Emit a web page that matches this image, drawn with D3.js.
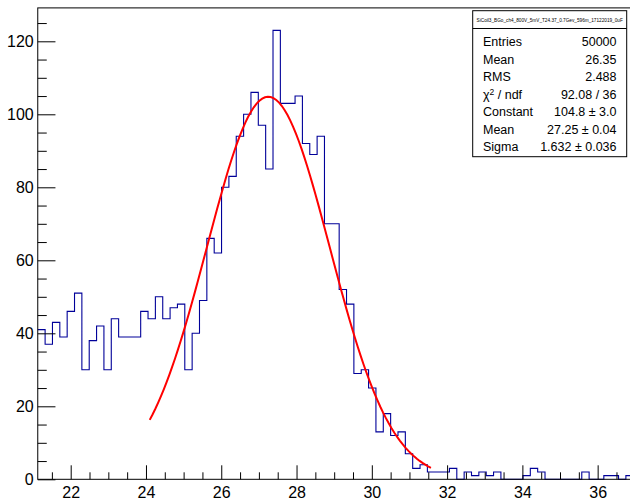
<!DOCTYPE html>
<html><head><meta charset="utf-8">
<script src="https://cdn.jsdelivr.net/npm/d3@7"></script>
<style>
body{margin:0;background:#fff}
svg{display:block}
text{font-family:"Liberation Sans",Arial,Helvetica,sans-serif;fill:#000}
</style>
</head><body>
<svg id="c" width="630" height="502"></svg>
<script>
// ---- data ----
const binLow = 21.125;
const binWidth = 0.1953125;
const counts = [41,37,43,39,46,51,30,38,42,30,
                44,39,39,39,46,44,50,44,47,48,
                30,40,49,66,62,80,83,94,100,106,
                97,85,123,103,103,105,92,89,94,70,
                70,52,48,29,30,25,13,18,12,13,
                7,3,4,2,2,2,3,0,2,1,
                2,1,2,0,0,0,1,3,2,0,
                0,0,0,0,2,0,0,1,1,0,
                1];
const xTicks = [22,24,26,28,30,32,34,36];
const yTicks = [0,20,40,60,80,100,120];
const fitConstant = 104.8, fitMean = 27.25, fitSigma = 1.632;
const fitRange = [24.1, 31.57];
const statsTitle = "SiCoil3_BGo_ch4_800V_5mV_T24.37_0.7Gev_596m_17122019_0uF";
const statsLabels = ["Entries","Mean","RMS","χ2 / ndf","Constant","Mean","Sigma"];
const statsValues = ["50000","26.35","2.488","92.08 / 36","104.8 ± 3.0","27.25 ± 0.04","1.632 ± 0.036"];

// ---- scales ----
const nBins = counts.length;
const xMax = binLow + nBins*binWidth;
const x = d3.scaleLinear().domain([binLow, xMax]).range([37.76, 37.76 + (xMax-binLow)*37.64]);
const y = d3.scaleLinear().domain([0, 1.05*d3.max(counts)]).range([479.3, 7.9]);

const svg = d3.select("#c");

// histogram
const pts = counts.map((c,i)=>[binLow+i*binWidth, c]);
pts.push([xMax, counts[nBins-1]]);
svg.append("path")
  .attr("d", d3.line().x(d=>x(d[0])).y(d=>y(d[1])).curve(d3.curveStepAfter)(pts))
  .attr("fill","none").attr("stroke","#000099").attr("stroke-width",1.1);

// fit
const fx = d3.range(0,101).map(k=>fitRange[0]+k*(fitRange[1]-fitRange[0])/100);
svg.append("path")
  .attr("d", d3.line().x(d=>x(d)).y(d=>y(fitConstant*Math.exp(-0.5*Math.pow((d-fitMean)/fitSigma,2))))(fx))
  .attr("fill","none").attr("stroke","#ff0000").attr("stroke-width",2);

// frame
svg.append("rect").attr("x",x.range()[0]).attr("y",y.range()[1])
  .attr("width",x.range()[1]-x.range()[0]).attr("height",y.range()[0]-y.range()[1])
  .attr("fill","none").attr("stroke","#000").attr("stroke-width",1);

// x axis
const xMinor = d3.range(21.5, 36.95, 0.5).filter(v=>Math.abs(v/2-Math.round(v/2))>1e-6);
const gx = svg.append("g").attr("transform",`translate(0,${y(0)})`);
gx.call(d3.axisBottom(x).tickValues(xTicks).tickSize(-14).tickPadding(7.5).tickFormat(d3.format("d")));
gx.append("g").call(d3.axisBottom(x).tickValues(xMinor).tickSize(-7).tickFormat(""));
gx.selectAll(".domain").remove();
gx.selectAll("text").attr("font-size",16).style("font-family",'"Liberation Sans",Arial,sans-serif');

// y axis
const yMinor = d3.range(5, 129, 5).filter(v=>v%20!==0);
const gy = svg.append("g").attr("transform",`translate(${x.range()[0]},0)`);
gy.call(d3.axisLeft(y).tickValues(yTicks).tickSize(-17.7).tickPadding(4).tickFormat(d3.format("d")));
gy.append("g").call(d3.axisLeft(y).tickValues(yMinor).tickSize(-9).tickFormat(""));
gy.selectAll(".domain").remove();
gy.selectAll("text").attr("font-size",16).style("font-family",'"Liberation Sans",Arial,sans-serif');
svg.selectAll(".tick line").attr("stroke","#000");

// stats box
const bx = 472.7, by = 10.7, bw = 154, bh = 146;
const st = svg.append("g");
st.append("rect").attr("x",bx).attr("y",by).attr("width",bw).attr("height",bh)
  .attr("fill","#fff").attr("stroke","#000").attr("stroke-width",1);
st.append("line").attr("x1",bx).attr("x2",bx+bw).attr("y1",28.5).attr("y2",28.5).attr("stroke","#000");
st.append("text").attr("x",bx+bw/2).attr("y",21.5).attr("font-size",4.7).attr("text-anchor","middle")
  .text(statsTitle);
statsLabels.forEach((lab,i)=>{
  const cy = 42 + i*17.5;
  const t = st.append("text").attr("x",483).attr("y",cy).attr("dy","0.35em").attr("font-size",12.5);
  if (lab.startsWith("χ2")) {
    t.append("tspan").text("χ");
    t.append("tspan").attr("font-size",8.5).attr("dy","-0.45em").text("2");
    t.append("tspan").attr("dy","0.3em").text(" / ndf");
  } else t.text(lab);
  st.append("text").attr("x",616.5).attr("y",cy).attr("dy","0.35em").attr("font-size",12.5)
    .attr("text-anchor","end").text(statsValues[i]);
});
</script>
</body></html>
